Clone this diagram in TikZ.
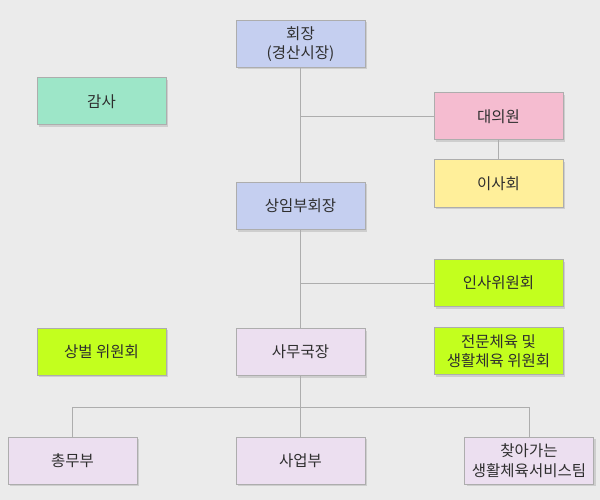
\documentclass[tikz,border=0pt]{standalone}
\usepackage{fontspec}
\setmainfont{Noto Sans CJK KR}
\usetikzlibrary{shadows}
\definecolor{bg}{HTML}{EBEBEB}
\definecolor{bd}{HTML}{ADADAD}
\definecolor{txt}{HTML}{2E2E2E}
\definecolor{cblue}{HTML}{C5CFF0}
\definecolor{cgreen}{HTML}{9DE6C8}
\definecolor{cpink}{HTML}{F5BCD0}
\definecolor{cyellow}{HTML}{FFEF9A}
\definecolor{clime}{HTML}{C3FF1E}
\definecolor{clav}{HTML}{ECDFF0}
\begin{document}
\begin{tikzpicture}[x=1pt,y=-1pt,
  box/.style={draw=bd,line width=1pt,minimum width=129pt,minimum height=47pt,
    inner sep=0pt,align=center,text=txt,font=\fontsize{15.5}{19.5}\selectfont,
    drop shadow={shadow xshift=2pt,shadow yshift=-2pt,fill=black,opacity=0.12}},
  conn/.style={draw=bd,line width=1pt}]
\fill[bg] (0,0) rectangle (600,500);
\useasboundingbox (0,0) rectangle (600,500);
\node[box,fill=cblue] (pres) at (300.5,44) {회장\\(경산시장)};
\node[box,fill=cgreen] (audit) at (101.5,101.5) {감사};
\node[box,fill=cpink] (deleg) at (498.5,116.5) {대의원};
\node[box,fill=cyellow] (board) at (498.5,183.5) {이사회};
\node[box,fill=cblue] (vice) at (300.5,206) {상임부회장};
\node[box,fill=clime] (pers) at (498.5,283) {인사위원회};
\node[box,fill=clime] (award) at (101.5,351.5) {상벌 위원회};
\node[box,fill=clav] (sec) at (300.5,352) {사무국장};
\node[box,fill=clime] (pro) at (498.5,351) {전문체육 및\\생활체육 위원회};
\node[box,fill=clav] (gen) at (72.5,460.5) {총무부};
\node[box,fill=clav] (biz) at (300.5,460.5) {사업부};
\node[box,fill=clav] (serv) at (529,460.5) {찾아가는\\생활체육서비스팀};
\coordinate (j1) at (pres.south |- deleg.west);
\coordinate (j2) at (vice.south |- pers.west);
\coordinate (jl) at (gen.north |- 0,407);
\coordinate (jr) at (serv.north |- 0,407);
\draw[conn] (pres.south) -- (vice.north);
\draw[conn] (j1) -- (deleg.west);
\draw[conn] (deleg.south) -- (board.north);
\draw[conn] (vice.south) -- (sec.north);
\draw[conn] (j2) -- (pers.west);
\draw[conn] (sec.south) -- (biz.north);
\draw[conn] (jl) -- (jr);
\draw[conn] (jl) -- (gen.north);
\draw[conn] (jr) -- (serv.north);
\end{tikzpicture}
\end{document}
